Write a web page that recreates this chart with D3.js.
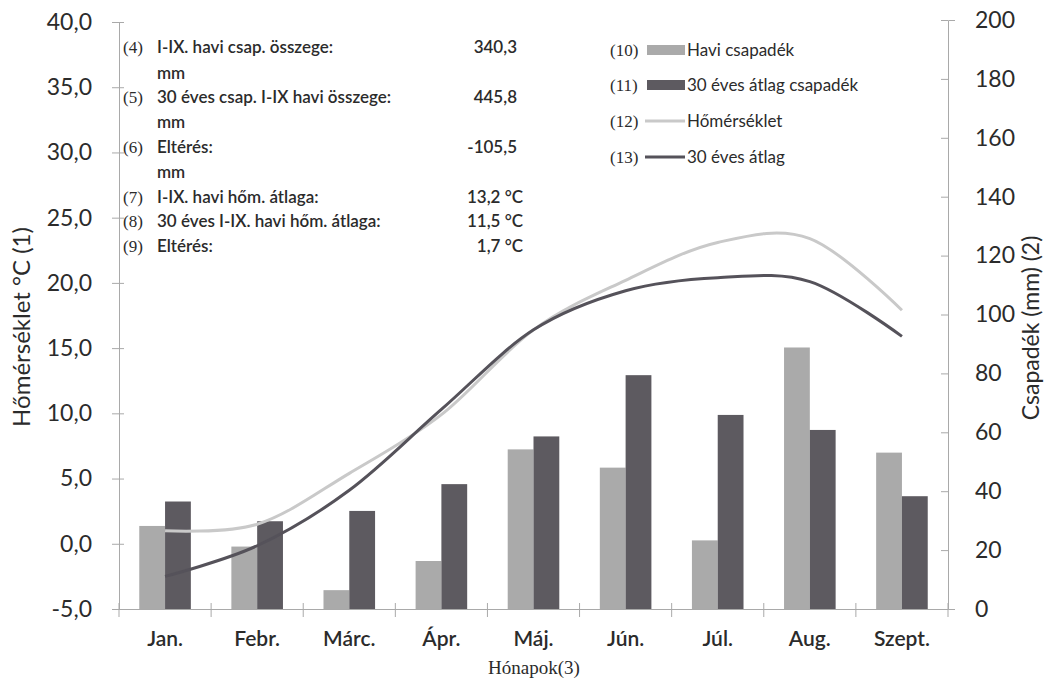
<!DOCTYPE html>
<html>
<head>
<meta charset="utf-8">
<script src="https://cdn.jsdelivr.net/npm/d3@7"></script>
<style>
  body { margin: 0; background: #fff; }
  svg { display: block; }
</style>
</head>
<body>
<svg id="chart"></svg>
<script>
// hónapok
const months = ["Jan.", "Febr.", "Márc.", "Ápr.", "Máj.", "Jún.", "Júl.", "Aug.", "Szept."];
// csapadék (mm)
const haviCsap = [28.2, 21.2, 6.4, 16.3, 54.2, 48.0, 23.3, 88.8, 53.1];
const atlagCsap = [36.5, 29.8, 33.3, 42.4, 58.6, 79.4, 65.9, 60.8, 38.3];
// hőmérséklet (°C)
const homerseklet = [1.0, 1.5, 5.4, 9.9, 16.4, 20.2, 23.1, 23.4, 17.9];
const atlagHom = [-2.5, -0.15, 4.1, 10.3, 16.4, 19.4, 20.4, 20.1, 15.9];

const leftTicks = [-5, 0, 5, 10, 15, 20, 25, 30, 35, 40];
const rightTicks = [0, 20, 40, 60, 80, 100, 120, 140, 160, 180, 200];

// szöveges összesítő
const infoNums = ["(4)", "", "(5)", "", "(6)", "", "(7)", "(8)", "(9)"];
const infoLabels = ["I-IX. havi csap. összege:", "mm", "30 éves csap. I-IX havi összege:", "mm",
  "Eltérés:", "mm", "I-IX.  havi hőm. átlaga:", "30 éves I-IX. havi hőm. átlaga:", "Eltérés:"];
const infoValues = ["340,3", "", "445,8", "", "-105,5", "", "13,2 °C", "11,5 °C", "1,7 °C"];

const legendNums = ["(10)", "(11)", "(12)", "(13)"];
const legendLabels = ["Havi csapadék", "30 éves átlag csapadék", "Hőmérséklet", "30 éves átlag"];

const width = 1048;
const height = 679;
const sans = "Lato, 'Open Sans', sans-serif";
const serif = "'Liberation Serif', 'DejaVu Serif', serif";
const textColor = "#2b2b2b";
const lightBar = "#aaaaaa";
const darkBar = "#5d5a60";
const lightLine = "#c9c9c9";
const darkLine = "#55525a";
const axisColor = "#a9a9a9";

const svg = d3.select("#chart").attr("width", width).attr("height", height);

const x = d3.scaleBand().domain(months).range([119, 948]).padding(0);
const yL = d3.scaleLinear().domain([-5, 40]).range([609, 22]);
const yR = d3.scaleLinear().domain([0, 200]).range([609, 20]);

const barW = x.bandwidth() * 0.28;
const cx = (d) => x(d) + x.bandwidth() / 2;

// oszlopok
svg.append("g")
  .selectAll("rect")
  .data(months)
  .enter()
  .append("rect")
  .attr("x", (d) => cx(d) - barW)
  .attr("y", (d, i) => yR(haviCsap[i]))
  .attr("width", barW)
  .attr("height", (d, i) => yR(0) - yR(haviCsap[i]))
  .attr("fill", lightBar);

svg.append("g")
  .selectAll("rect")
  .data(months)
  .enter()
  .append("rect")
  .attr("x", (d) => cx(d))
  .attr("y", (d, i) => yR(atlagCsap[i]))
  .attr("width", barW)
  .attr("height", (d, i) => yR(0) - yR(atlagCsap[i]))
  .attr("fill", darkBar);

// vonalak
const line = d3.line()
  .x((d, i) => cx(months[i]))
  .y((d) => yL(d))
  .curve(d3.curveCardinal.tension(0));

svg.append("path").datum(homerseklet)
  .attr("d", line).attr("fill", "none")
  .attr("stroke", lightLine).attr("stroke-width", 3);

svg.append("path").datum(atlagHom)
  .attr("d", line).attr("fill", "none")
  .attr("stroke", darkLine).attr("stroke-width", 3);

// tengelyek
function styleAxis(g) {
  g.select(".domain").attr("stroke", axisColor);
  g.selectAll(".tick line").attr("stroke", axisColor);
  g.selectAll(".tick text").attr("fill", textColor);
}

const fmt = (d) => d.toFixed(1).replace(".", ",");
svg.append("g")
  .attr("transform", "translate(119,0)")
  .call(d3.axisLeft(yL).tickValues(leftTicks).tickFormat(fmt).tickSizeOuter(0).tickSize(7).tickPadding(20))
  .call(styleAxis)
  .call((g) => g.selectAll(".tick line").attr("x2", 5).attr("x1", -7))
  .call((g) => g.selectAll(".tick text").attr("font-size", 23).attr("font-family", sans));

svg.append("g")
  .attr("transform", "translate(948,0)")
  .call(d3.axisRight(yR).tickValues(rightTicks).tickSizeOuter(0).tickSize(7).tickPadding(20))
  .call(styleAxis)
  .call((g) => g.selectAll(".tick line").attr("x1", -7).attr("x2", 0))
  .call((g) => g.selectAll(".tick text").attr("font-size", 23).attr("font-family", sans));

const xAxis = svg.append("g").attr("transform", "translate(0,609)")
  .call(d3.axisBottom(x).tickSize(0).tickPadding(22))
  .call(styleAxis)
  .call((g) => g.selectAll(".tick text").attr("font-size", 21).attr("font-family", sans).attr("font-weight", 600));

// kategória-határ jelölők
xAxis.selectAll("line.sep")
  .data(months.concat(["end"]))
  .enter()
  .append("line")
  .attr("x1", (d, i) => i < months.length ? x(d) : 948)
  .attr("x2", (d, i) => i < months.length ? x(d) : 948)
  .attr("y1", -6).attr("y2", 8)
  .attr("stroke", axisColor);

// tengelycímek
svg.append("text")
  .attr("transform", "translate(30,327) rotate(-90)")
  .attr("text-anchor", "middle")
  .attr("font-family", sans).attr("font-size", 24).attr("fill", textColor)
  .text("Hőmérséklet °C (1)");

svg.append("text")
  .attr("transform", "translate(1039,328) rotate(-90)")
  .attr("text-anchor", "middle")
  .attr("font-family", sans).attr("font-size", 23).attr("fill", textColor)
  .text("Csapadék (mm) (2)");

svg.append("text")
  .attr("x", 534).attr("y", 674)
  .attr("text-anchor", "middle")
  .attr("font-family", serif).attr("font-size", 19).attr("fill", textColor)
  .text("Hónapok(3)");

// összesítő blokk
const infoY = [47, 73, 97, 122, 147, 172, 197, 221, 246];
const info = svg.append("g");
infoLabels.forEach((lab, i) => {
  const yy = infoY[i] + 6;
  if (infoNums[i]) {
    info.append("text").attr("x", 123).attr("y", yy)
      .attr("font-family", serif).attr("font-size", 17).attr("fill", textColor)
      .text(infoNums[i]);
  }
  info.append("text").attr("x", 157).attr("y", yy)
    .attr("font-family", sans).attr("font-size", 17).attr("font-weight", 600).attr("fill", textColor)
    .text(lab);
  if (infoValues[i]) {
    const isC = infoValues[i].indexOf("°C") >= 0;
    info.append("text").attr("x", isC ? 523 : 517).attr("y", yy)
      .attr("text-anchor", "end")
      .attr("font-family", sans).attr("font-size", 17).attr("font-weight", 600).attr("fill", textColor)
      .text(infoValues[i]);
  }
});

// jelmagyarázat
const legY = [50, 85, 121, 157];
const legSwatch = [lightBar, darkBar, lightLine, darkLine];
const leg = svg.append("g");
legendLabels.forEach((lab, i) => {
  const yy = legY[i];
  leg.append("text").attr("x", 610).attr("y", yy + 6)
    .attr("font-family", serif).attr("font-size", 17).attr("fill", textColor)
    .text(legendNums[i]);
  if (i < 2) {
    leg.append("rect").attr("x", 647).attr("y", yy - 5).attr("width", 38).attr("height", 10)
      .attr("fill", legSwatch[i]);
  } else {
    leg.append("line").attr("x1", 645).attr("x2", 685).attr("y1", yy).attr("y2", yy)
      .attr("stroke", legSwatch[i]).attr("stroke-width", 3);
  }
  leg.append("text").attr("x", 687).attr("y", yy + 6)
    .attr("font-family", sans).attr("font-size", 17).attr("fill", textColor)
    .text(lab);
});
</script>
</body>
</html>
